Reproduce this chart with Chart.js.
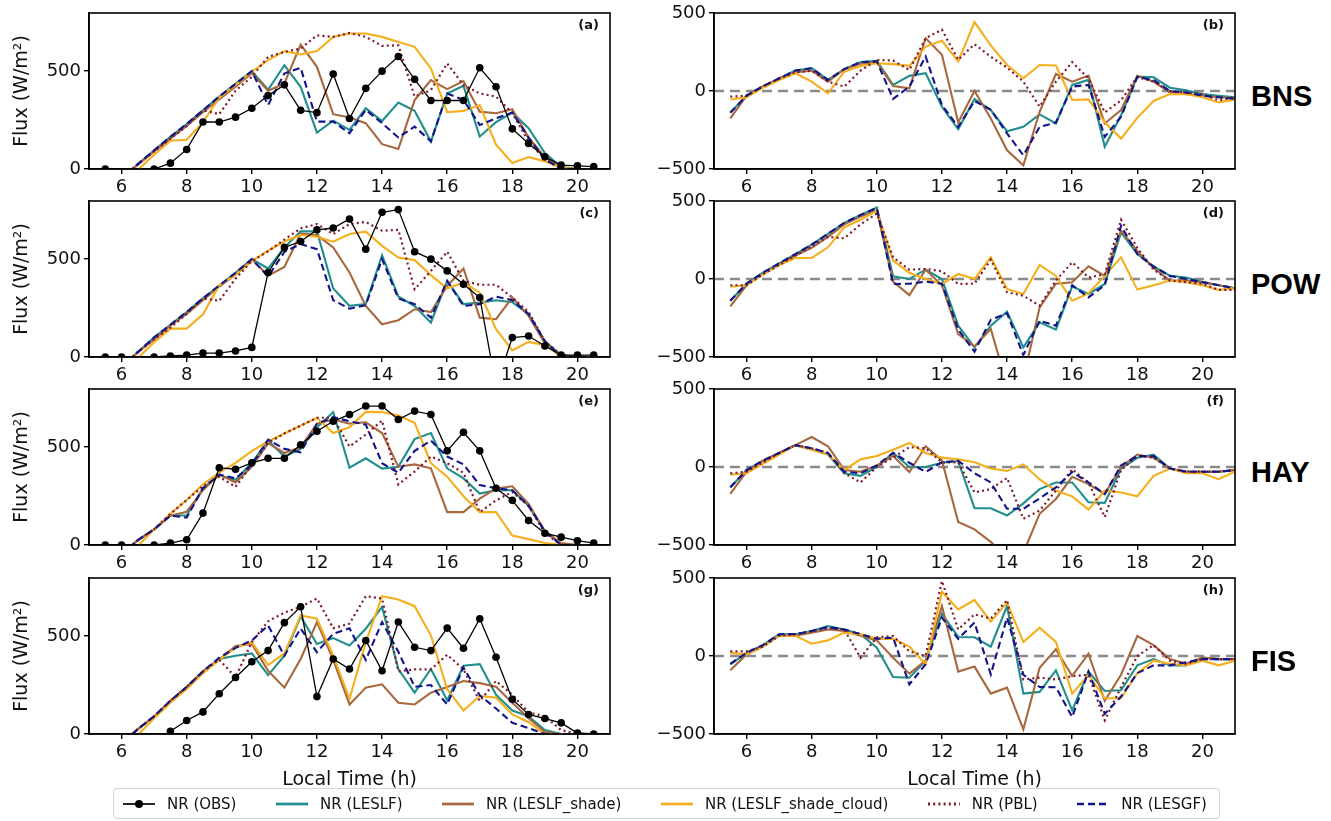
<!DOCTYPE html>
<html><head><meta charset="utf-8">
<script src="https://cdn.jsdelivr.net/npm/chart.js@4.4.1/dist/chart.umd.min.js"></script>
<style>
html,body{margin:0;padding:0;background:#fff;}
#wrap{position:relative;width:1331px;height:821px;overflow:hidden;background:#fff;}
#wrap canvas{position:absolute;}
.stn{position:absolute;left:1251px;font:bold 29px 'Liberation Sans',Arial,sans-serif;color:#000;transform:translateY(-50%);line-height:1;}
#legend{position:absolute;left:113px;top:788px;width:1107px;height:31px;box-sizing:border-box;border:1px solid #d4d4d4;border-radius:4px;display:flex;align-items:center;justify-content:space-between;padding:0 12px 0 8px;font:15px 'DejaVu Sans',sans-serif;color:#111;background:rgba(255,255,255,0.9);}
.item{display:flex;align-items:center;white-space:nowrap;}
.item svg{margin-right:11px;}
</style>
</head><body>
<div id="wrap"><div id="legend"></div></div>
<script>
// ---------- data ----------
const hours = [5.5,6,6.5,7,7.5,8,8.5,9,9.5,10,10.5,11,11.5,12,12.5,13,13.5,14,14.5,15,15.5,16,16.5,17,17.5,18,18.5,19,19.5,20,20.5,21];
const xTicks = [6,8,10,12,14,16,18,20];
const fluxTicks = [0,500];
const diffTicks = [-500,0,500];
const stations = ['BNS','POW','HAY','FIS'];
const panelLabels = [['(a)','(b)'],['(c)','(d)'],['(e)','(f)'],['(g)','(h)']];
const seriesNames = ['NR (OBS)','NR (LESLF)','NR (LESLF_shade)','NR (LESLF_shade_cloud)','NR (PBL)','NR (LESGF)'];

// BNS
const obsA   = [0,null,null,0,30,100,240,240,265,310,375,430,300,288,485,258,412,500,575,458,350,350,350,517,420,205,130,62,20,16,12];
const leslfA = [-140,-50,25,95,165,230,300,370,435,500,405,530,420,186,247,200,310,245,340,297,140,386,425,166,239,288,208,81,10,0,0];
const shadeA = [-170,-50,22,90,155,220,290,355,420,490,400,437,636,522,280,263,234,127,102,352,454,408,449,293,285,305,161,60,5,0,0];
const cloudA = [-50,-60,-5,73,144,149,239,364,429,497,556,602,585,603,675,692,692,675,649,624,514,290,297,327,124,31,61,39,5,0,0];
const pblA   = [-40,-50,25,90,155,220,300,280,400,471,573,598,615,683,675,695,675,629,632,370,403,539,429,386,370,285,140,50,0,0,0];
const lesgfA = [-140,-50,25,95,165,230,300,370,435,500,327,488,517,242,242,183,302,234,161,217,141,386,353,225,259,288,160,50,0,0,0];

const leslfB = [-137,-30,30,80,131,146,71,140,185,193,39,97,114,-101,-245,-52,-122,-258,-230,-150,-208,39,71,-358,-155,92,88,21,5,-20,-30,-40];
const shadeB = [-176,-30,30,80,120,130,60,140,175,185,32,17,339,232,-202,0,-176,-380,-476,-133,109,60,99,-208,-122,97,60,-10,-20,-30,-40,-45];
const cloudB = [-54,-40,20,70,114,60,-15,124,160,178,172,161,285,322,189,442,292,167,82,167,163,-58,-54,-200,-305,-172,-64,-20,-20,-40,-73,-55];
const pblB   = [-36,-30,30,80,120,130,60,28,130,199,195,135,339,393,200,300,220,150,60,-100,60,185,80,-137,-60,90,60,0,-10,-20,-60,-40];
const lesgfB = [-140,-30,30,80,131,146,71,140,185,190,-51,28,221,-90,-230,-64,-120,-272,-412,-230,-202,28,39,-294,-165,90,70,0,-10,-30,-40,-50];

// POW
const obsC   = [0,0,null,0,5,10,20,20,31,49,432,560,590,650,659,705,551,739,753,538,500,440,372,304,-150,99,107,56,10,10,10];
const leslfC = [-140,-50,25,100,165,230,300,365,430,500,452,560,642,642,350,261,270,520,309,260,176,389,270,278,290,280,218,80,10,0,0];
const shadeC = [-170,-50,25,90,160,220,290,360,420,500,415,460,630,623,560,432,261,167,188,244,230,363,452,201,193,304,210,70,0,0,0];
const cloudC = [-50,-60,-5,75,145,145,218,367,420,490,543,590,623,614,589,628,640,568,508,495,418,350,381,329,142,34,77,60,10,0,0];
const pblC   = [-40,-50,25,90,150,220,300,287,400,490,540,600,657,679,628,679,690,645,650,346,440,538,389,369,369,304,230,80,10,0,0];
const lesgfC = [-140,-50,25,100,165,230,300,365,430,500,411,537,577,551,290,247,265,500,299,270,201,389,261,270,309,290,220,80,0,0,0];

const leslfD = [-139,-30,40,100,160,220,290,360,410,459,17,0,60,0,-299,-438,-299,-209,-438,-278,-325,-47,-96,-32,299,160,80,21,10,-20,-40,-60];
const shadeD = [-176,-40,30,90,150,200,270,350,400,440,-17,-103,60,-40,-353,-432,-320,-680,-640,-182,-30,-21,81,20,310,180,70,-10,-10,-20,-40,-60];
const cloudD = [-50,-40,30,90,135,135,203,331,380,438,118,40,0,-32,32,0,139,-64,-96,90,20,-139,-92,20,139,-68,-40,-10,-20,-40,-70,-60];
const pblD   = [-40,-40,30,90,150,210,270,261,350,420,139,60,64,50,-32,-30,124,-85,-107,-171,-10,107,10,30,380,200,60,-10,-20,-30,-70,-70];
const lesgfD = [-139,-30,40,100,160,220,290,360,410,455,-32,-30,-17,-30,-325,-466,-261,-220,-487,-267,-300,-40,-118,-40,342,160,80,20,0,-20,-40,-60];

// HAY
const obsE   = [0,0,null,0,10,27,163,395,387,420,443,443,512,581,632,667,710,710,641,684,667,481,576,481,290,228,125,60,40,22,10];
const leslfE = [-130,-50,25,80,151,151,290,357,332,420,533,452,491,601,679,395,443,390,400,541,572,392,340,263,280,280,200,70,5,0,0];
const shadeE = [-170,-50,25,80,150,170,280,360,320,400,520,470,500,620,641,620,627,572,400,412,392,168,168,237,289,300,210,70,10,0,0];
const cloudE = [-50,-60,-5,80,160,230,310,370,420,480,530,570,610,649,572,601,680,679,661,624,418,349,249,168,168,48,30,10,0,0,0];
const pblE   = [-40,-50,25,80,160,230,300,349,297,410,520,570,610,650,650,503,564,636,309,375,452,418,369,168,228,271,200,60,0,0,0];
const lesgfE = [-130,-50,25,80,150,140,290,360,340,410,538,491,474,619,653,632,615,418,369,481,533,452,412,306,290,280,200,70,0,0,0];

const leslfF = [-131,-20,40,90,140,112,80,-40,-57,0,91,0,0,27,38,-264,-264,-311,-233,-142,-99,-99,-226,-230,-11,59,80,-10,-30,-30,-30,-20];
const shadeF = [-173,-30,40,90,140,192,133,-19,-30,10,70,-32,133,42,-353,-400,-480,-580,-550,-300,-205,-63,-110,-173,0,80,60,-10,-30,-30,-30,-20];
const cloudF = [-50,-40,20,80,140,110,80,-20,49,70,110,154,90,60,50,30,-10,-25,17,-80,-152,-188,-273,-152,-163,-188,-57,-10,-40,-40,-78,-30];
const pblF   = [-40,-30,30,90,140,120,90,-40,-99,0,60,127,120,30,30,-163,-142,-70,-332,-279,-150,-15,-100,-321,-20,70,60,-10,-30,-30,-30,-20];
const lesgfF = [-130,-20,40,90,140,120,90,-30,-40,10,91,27,-32,30,40,-40,-99,-268,-268,-201,-131,-32,-99,-173,10,70,70,-10,-30,-30,-30,-20];

// FIS
const obsG   = [null,null,null,null,14,69,113,206,289,369,426,569,650,191,383,332,478,323,572,443,426,541,438,589,392,177,100,79,57,5,0];
const leslfG = [-100,-50,25,90,170,240,320,383,400,412,301,400,601,460,490,452,538,649,332,211,332,172,349,357,200,120,90,20,0,0,0];
const shadeG = [-100,-50,25,90,170,240,320,380,450,460,323,237,383,572,380,151,237,254,160,151,211,240,271,260,242,160,80,10,0,0,0];
const cloudG = [-60,-60,-5,80,160,230,310,380,440,469,352,412,606,589,400,180,469,704,687,653,503,228,120,194,186,100,60,0,0,0,0];
const pblG   = [-60,-50,25,90,170,240,320,380,290,470,576,620,650,692,540,564,704,692,320,330,330,405,330,168,271,200,110,90,20,0,0];
const lesgfG = [-100,-50,25,90,170,240,320,390,440,478,555,400,538,418,512,540,378,572,420,241,250,151,340,198,130,57,30,0,0,0,0];

const leslfH = [-53,20,70,139,140,160,192,170,140,53,-135,-139,-30,271,122,120,60,320,-241,-230,-92,-348,-100,-224,-220,-60,-20,-60,-60,-10,-20,-20];
const shadeH = [-92,10,60,130,130,150,170,160,130,100,-11,-113,-30,320,-100,-68,-241,-203,-470,-75,43,-128,15,-288,-120,128,70,-20,-50,-10,-20,-20];
const cloudH = [20,10,60,130,130,79,100,150,140,110,110,60,-53,412,299,359,220,342,90,182,90,-241,-120,-271,-271,-110,-30,-50,-60,-30,-60,-30];
const pblH   = [30,30,60,130,140,160,180,170,-11,120,128,30,0,481,170,267,240,359,-150,-139,-150,-130,-120,-412,-200,0,70,-30,-50,-20,-20,-20];
const lesgfH = [-50,20,70,139,140,160,185,170,140,110,118,-182,-53,246,110,214,-118,246,-120,-199,-200,-391,-100,-370,-260,-110,-60,-60,-40,-20,-20,-20];

// ---------- styles ----------
const STY = {
  'NR (OBS)':               {color:'#000000', width:1.3, dash:[], points:3.8, order:0},
  'NR (LESLF)':             {color:'#1f8e8c', width:2.1, dash:[], points:0, order:5},
  'NR (LESLF_shade)':       {color:'#a8683f', width:2.1, dash:[], points:0, order:4},
  'NR (LESLF_shade_cloud)': {color:'#f5ae1c', width:2.1, dash:[], points:0, order:3},
  'NR (PBL)':               {color:'#7f1a2a', width:2.2, dash:[2,3.2], points:0, order:2},
  'NR (LESGF)':             {color:'#14148a', width:2.1, dash:[7,4], points:0, order:1}
};
const FONT = "'DejaVu Sans', sans-serif";

const panels = [
  {row:0, col:0, series:[obsA,leslfA,shadeA,cloudA,pblA,lesgfA]},
  {row:0, col:1, series:[null,leslfB,shadeB,cloudB,pblB,lesgfB]},
  {row:1, col:0, series:[obsC,leslfC,shadeC,cloudC,pblC,lesgfC]},
  {row:1, col:1, series:[null,leslfD,shadeD,cloudD,pblD,lesgfD]},
  {row:2, col:0, series:[obsE,leslfE,shadeE,cloudE,pblE,lesgfE]},
  {row:2, col:1, series:[null,leslfF,shadeF,cloudF,pblF,lesgfF]},
  {row:3, col:0, series:[obsG,leslfG,shadeG,cloudG,pblG,lesgfG]},
  {row:3, col:1, series:[null,leslfH,shadeH,cloudH,pblH,lesgfH]}
];

// ---------- layout ----------
const areaTop = [13, 201, 389, 578];
const areaH = 156;
const colCanvasX = [0, 620];
const yAxisW = [89, 94];
const canvasW = 630;
const padRight = [20, 15];

const framePlugin = {
  id: 'frame',
  beforeDatasetsDraw(chart, args, opts) {
    if (!opts.zeroLine) return;
    const {ctx, chartArea:a} = chart;
    const y = chart.scales.y.getPixelForValue(0);
    ctx.save();
    ctx.strokeStyle = '#8a8a8a'; ctx.lineWidth = 2.6; ctx.setLineDash([10,6]);
    ctx.beginPath(); ctx.moveTo(a.left, y); ctx.lineTo(a.right, y); ctx.stroke();
    ctx.restore();
  },
  afterDraw(chart, args, opts) {
    const {ctx, chartArea:a} = chart;
    ctx.save();
    ctx.strokeStyle = '#000'; ctx.lineWidth = 1.6; ctx.setLineDash([]);
    ctx.strokeRect(a.left, a.top, a.right - a.left, a.bottom - a.top);
    ctx.fillStyle = '#111';
    ctx.font = "bold 13px 'DejaVu Sans', sans-serif";
    ctx.textAlign = 'right'; ctx.textBaseline = 'middle';
    ctx.fillText(opts.label, a.right - 11, a.top + 13);
    ctx.restore();
  }
};

const wrap = document.getElementById('wrap');

panels.forEach(p => {
  const isFlux = p.col === 0;
  const bottomRow = p.row === 3;
  const cH = bottomRow ? 228 : 200;
  const cv = document.createElement('canvas');
  cv.width = canvasW; cv.height = cH;
  cv.style.left = colCanvasX[p.col] + 'px';
  cv.style.top = (areaTop[p.row] - 13) + 'px';
  cv.style.width = canvasW + 'px'; cv.style.height = cH + 'px';
  wrap.insertBefore(cv, document.getElementById('legend'));

  const datasets = [];
  p.series.forEach((vals, k) => {
    if (!vals) return;
    const name = seriesNames[k];
    const s = STY[name];
    datasets.push({
      label: name,
      data: vals.map((v, i) => ({x: hours[i], y: v})),
      borderColor: s.color,
      backgroundColor: s.color,
      borderWidth: s.width,
      borderDash: s.dash,
      pointRadius: s.points,
      pointHoverRadius: s.points,
      pointBorderWidth: 0,
      pointBackgroundColor: s.color,
      tension: 0,
      spanGaps: false,
      fill: false,
      order: s.order
    });
  });

  const xAxisH = cH - 13 - areaH;
  new Chart(cv, {
    type: 'line',
    data: {datasets},
    plugins: [framePlugin],
    options: {
      responsive: false,
      animation: false,
      devicePixelRatio: 1,
      layout: {padding: {left: 0, top: 13, right: padRight[p.col], bottom: 0}},
      plugins: {
        legend: {display: false},
        tooltip: {enabled: false},
        frame: {label: panelLabels[p.row][p.col], zeroLine: !isFlux}
      },
      scales: {
        x: {
          type: 'linear', min: 5, max: 21,
          afterBuildTicks: s => { s.ticks = xTicks.map(v => ({value: v})); },
          afterFit: s => { s.height = xAxisH; s.paddingLeft = 0; s.paddingRight = 0; s.paddingTop = 0; s.paddingBottom = 0; },
          ticks: {autoSkip: false, maxRotation: 0, color: '#111', padding: 3, font: {family: FONT, size: 18}, callback: v => String(v)},
          grid: {drawOnChartArea: false, drawTicks: true, tickLength: 5, color: '#000', lineWidth: 1.4},
          border: {display: true, color: '#000', width: 1.6},
          title: {display: bottomRow, text: 'Local Time (h)', color: '#111', font: {family: FONT, size: 19}, padding: {top: 0, bottom: 2}}
        },
        y: {
          type: 'linear',
          min: isFlux ? 0 : -500, max: isFlux ? 797 : 500,
          afterBuildTicks: s => { s.ticks = (isFlux ? fluxTicks : diffTicks).map(v => ({value: v})); },
          afterFit: s => { s.width = yAxisW[p.col]; s.paddingTop = 0; s.paddingBottom = 0; s.paddingLeft = 0; s.paddingRight = 0; },
          ticks: {color: '#111', padding: 3, font: {family: FONT, size: 18}, callback: v => (v < 0 ? '\u2212' + Math.abs(v) : String(v))},
          grid: {drawOnChartArea: false, drawTicks: true, tickLength: 5, color: '#000', lineWidth: 1.4},
          border: {display: true, color: '#000', width: 1.6},
          title: {display: isFlux, text: 'Flux (W/m\u00B2)', color: '#111', font: {family: FONT, size: 19}, padding: {top: 11, bottom: 0}}
        }
      }
    }
  });
});

// station labels
stations.forEach((st, r) => {
  const d = document.createElement('div');
  d.className = 'stn';
  d.textContent = st;
  d.style.top = (areaTop[r] + areaH / 2 + 5) + 'px';
  wrap.appendChild(d);
});

// legend
const legend = document.getElementById('legend');
seriesNames.forEach(name => {
  const s = STY[name];
  const it = document.createElement('div');
  it.className = 'item';
  const dash = s.dash.length ? ` stroke-dasharray="${s.dash.join(',')}"` : '';
  const dot = s.points ? `<circle cx="17" cy="6" r="4" fill="${s.color}"/>` : '';
  it.innerHTML = `<svg width="34" height="12" viewBox="0 0 34 12"><line x1="1" y1="6" x2="33" y2="6" stroke="${s.color}" stroke-width="${s.width + (s.points ? 0.4 : 0.6)}"${dash}/>${dot}</svg><span>${name}</span>`;
  legend.appendChild(it);
});
</script>
</body></html>
